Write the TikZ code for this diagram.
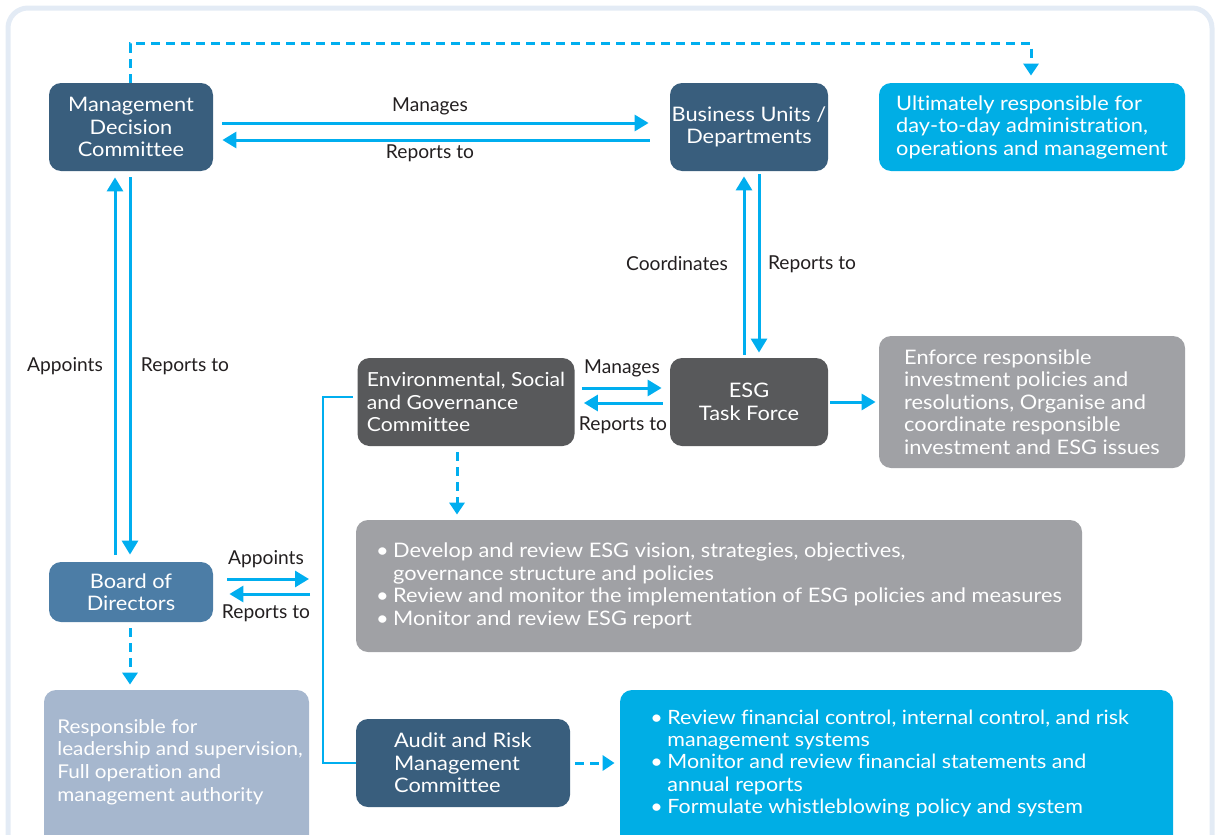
\documentclass[tikz,border=0pt]{standalone}
\usepackage{fontspec}
\setmainfont{Lato}[FakeStretch=1.09, Ligatures=NoCommon]
\newfontfamily\labelfont{Lato}[Ligatures=NoCommon]
\usetikzlibrary{arrows.meta,calc}

\definecolor{navy}{RGB}{57,94,125}
\definecolor{boardblue}{RGB}{76,125,166}
\definecolor{paleblue}{RGB}{166,183,206}
\definecolor{darkgrey}{RGB}{88,89,91}
\definecolor{midgrey}{RGB}{160,161,165}
\definecolor{brightcyan}{RGB}{0,174,229}
\definecolor{linecyan}{RGB}{0,174,239}
\definecolor{framecol}{RGB}{227,235,245}
\definecolor{inkcol}{RGB}{35,31,32}

\newcommand{\bul}{\makebox[8.5pt][l]{\textbullet}}
\newcommand{\ind}{\hspace*{8.5pt}}

\tikzset{
  box/.style={rectangle, rounded corners=6pt, inner sep=0pt, text=white,
    font=\fontsize{10}{11.25}\selectfont},
  lbl/.style={inner sep=0pt, text=inkcol, font=\labelfont\fontsize{9.6}{11}\selectfont},
  link/.style={draw=linecyan, line width=1.5pt,
    -{Triangle[length=7pt,width=8pt]}},
  dlink/.style={draw=linecyan, line width=1.5pt, dash pattern=on 4.5pt off 3pt,
    -{Triangle[length=6pt,width=7.5pt]}},
  bracket/.style={draw=linecyan, line width=0.9pt},
}

\begin{document}
\begin{tikzpicture}[x=0.5pt,y=-0.5pt]
\useasboundingbox (0,0) rectangle (1216,835);
\clip (0,0) rectangle (1216,835);

% outer frame
\draw[framecol, line width=2.5pt, rounded corners=10pt] (8,8) rectangle (1212,880);

% boxes
\node[box, fill=navy, minimum width=82pt, minimum height=44pt, align=center]
  (mdc) at (131,127) {Management\\Decision\\Committee};
\node[box, fill=navy, minimum width=79pt, minimum height=44pt, align=center]
  (bu) at (749,127) {Business Units /\\Departments};
\node[box, fill=brightcyan, minimum width=153pt, minimum height=44pt, align=left]
  (ult) at (1032,127) {Ultimately responsible for\\day-to-day administration,\\operations and management};
\node[box, fill=boardblue, minimum width=82pt, minimum height=30pt, align=center]
  (board) at (131,592) {Board of\\Directors};
\node[box, fill=paleblue, minimum width=132.5pt, minimum height=80pt]
  (resp) at (176.5,770) {};
\node[box, anchor=west, align=left, font=\fontsize{9.5}{11.4}\selectfont]
  (resptext) at (57,762) {Responsible for\\leadership and supervision,\\Full operation and\\management authority};
\node[box, fill=darkgrey, minimum width=108.5pt, minimum height=44pt, align=left,
  font=\fontsize{9.7}{11.4}\selectfont]
  (escomm) at (466,402) {Environmental, Social\\and Governance\\Committee};
\node[box, fill=darkgrey, minimum width=79pt, minimum height=44pt, align=center]
  (tf) at (749,402) {ESG\\Task Force};
\node[box, fill=midgrey, minimum width=153pt, minimum height=66pt, align=left]
  (enf) at (1032,402) {Enforce responsible\\investment policies and\\resolutions, Organise and\\coordinate responsible\\investment and ESG issues};
\node[box, fill=midgrey, minimum width=363pt, minimum height=66pt, align=left]
  (dev) at (719,586) {\bul Develop and review ESG vision, strategies, objectives,\\
    \ind governance structure and policies\\
    \bul Review and monitor the implementation of ESG policies and measures\\
    \bul Monitor and review ESG report};
\node[box, fill=navy, minimum width=107pt, minimum height=44pt, align=left]
  (audit) at (463,763) {Audit and Risk\\Management\\Committee};
\node[box, fill=brightcyan, minimum width=276.5pt, minimum height=80pt]
  (review) at (896.5,770) {};
\node[box, anchor=west, align=left, font=\fontsize{9.85}{11.2}\selectfont]
  (reviewtext) at (650,763.5) {\bul Review financial control, internal control, and risk\\
    \ind management systems\\
    \bul Monitor and review financial statements and\\
    \ind annual reports\\
    \bul Formulate whistleblowing policy and system};

% connector labels
\node[lbl] (l1) at (430,106) {Manages};
\node[lbl] (l2) at (430,153) {Reports to};
\node[lbl] (l3) at (65,366) {Appoints};
\node[lbl] (l4) at (185,366) {Reports to};
\node[lbl] (l5) at (677,264) {Coordinates};
\node[lbl] (l6) at (812,264) {Reports to};
\node[lbl] (l7) at (622,368) {Manages};
\node[lbl] (l8) at (623,425) {Reports to};
\node[lbl] (l9) at (266,559) {Appoints};
\node[lbl] (l10) at (266,613) {Reports to};

% solid connectors
\draw[link] ($(mdc.east)+(9,-4)$) -- ($(bu.west)+(-21,-4)$);
\draw[link] ($(bu.west)+(-20,13)$) -- ($(mdc.east)+(9,13)$);
\draw[link] ($(board.north)+(-16,-7)$) -- ($(mdc.south)+(-16,6)$);
\draw[link] ($(mdc.south)+(-1,6)$) -- ($(board.north)+(-1,-7)$);
\draw[link] ($(tf.north)+(-5,-3)$) -- ($(bu.south)+(-5,5)$);
\draw[link] ($(bu.south)+(10,3)$) -- ($(tf.north)+(10,-5)$);
\draw[link] ($(escomm.east)+(7,-14)$) -- ($(tf.west)+(-8,-14)$);
\draw[link] ($(tf.west)+(-7,1)$) -- ($(escomm.east)+(9,1)$);
\draw[link] ($(tf.east)+(2,0)$) -- ($(enf.west)+(-3,0)$);

\coordinate (bA) at (309,579);
\coordinate (bR) at (310,594);
\draw[link] ($(board.east)+(14,-13)$) -- (bA);
\draw[link] (bR) -- ($(board.east)+(16,2)$);

% committee bracket
\draw[bracket] ($(escomm.west)+(-4,-5)$) -| ($(audit.west)+(-33,0)$) -- (audit.west);

% dashed connectors
\draw[dlink] ($(mdc.north)+(-1,0)$) |- ($(ult.north)+(-1,-39)$) -- ($(ult.north)+(-1,-7)$);
\draw[dlink] ($(board.south)+(-1,6)$) -- ($(board.south |- resp.north)+(-1,-5)$);
\draw[dlink] ($(escomm.south)+(-9,6)$) -- ($(escomm.south |- dev.north)+(-9,-5)$);
\draw[dlink] ($(audit.east)+(5,0)$) -- ($(review.west |- audit.east)+(-5,0)$);
\end{tikzpicture}
\end{document}
